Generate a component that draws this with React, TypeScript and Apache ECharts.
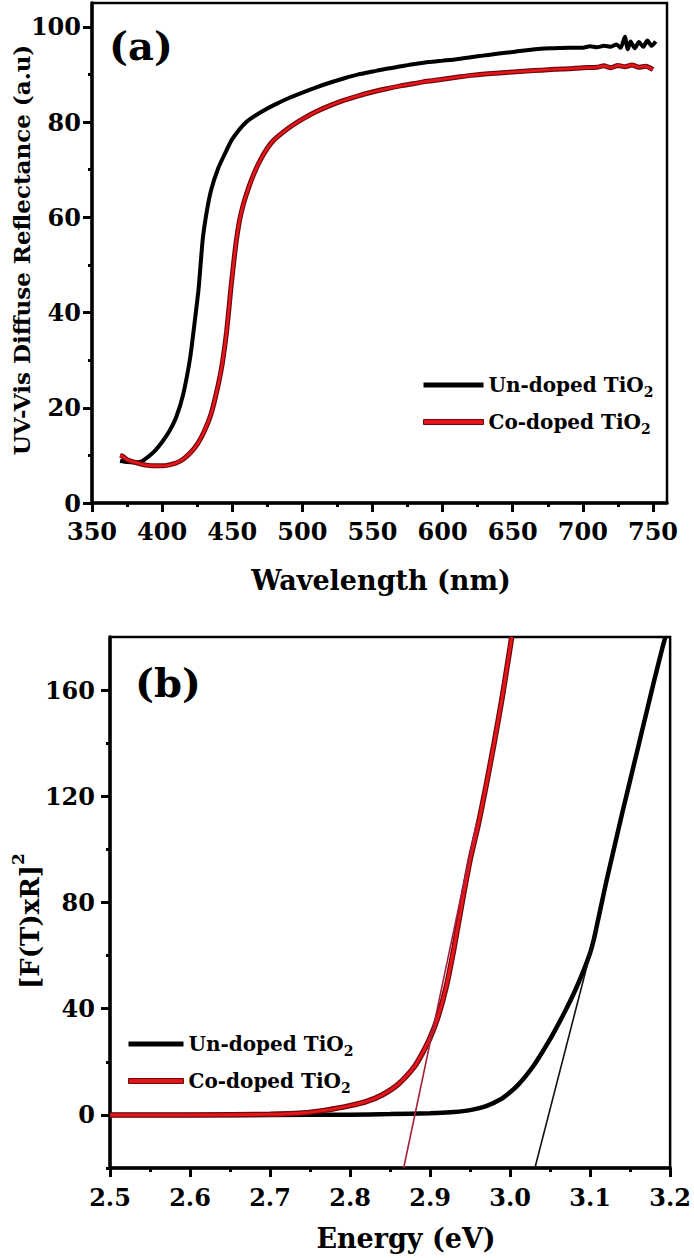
import React, { useEffect, useRef } from "react";
import * as echarts from "echarts";

// ---------- Panel (a): UV-Vis diffuse reflectance ----------
const undopedWl = [370, 375, 380, 385, 390, 395, 400, 405, 410, 415, 420, 423, 426, 429, 432, 435, 440, 445, 450, 460, 470, 480, 490, 500, 510, 520, 530, 540, 550, 560, 570, 580, 590, 600, 610, 620, 630, 640, 650, 660, 670, 680, 690, 700, 705, 710, 715, 720, 724, 727, 730, 732, 734, 737, 740, 743, 746, 749, 752];
const undopedRefl = [8.8, 8.6, 8.5, 8.7, 9.7, 11.0, 12.8, 15.0, 18.0, 22.8, 30.5, 37.5, 45, 55.5, 61.5, 65.8, 70.3, 73.5, 76.4, 80.0, 82.0, 83.6, 85.0, 86.2, 87.3, 88.3, 89.2, 90.0, 90.6, 91.2, 91.7, 92.2, 92.6, 92.9, 93.2, 93.6, 94.0, 94.4, 94.7, 95.1, 95.4, 95.5, 95.6, 95.6, 95.9, 95.7, 96.0, 95.8, 96.3, 95.6, 97.9, 95.3, 96.9, 95.5, 96.8, 95.8, 97.1, 96.0, 96.9];
const codopedWl = [370, 372, 375, 380, 385, 390, 395, 400, 405, 410, 415, 420, 425, 430, 435, 440, 443, 446, 449, 452, 455, 458, 462, 466, 470, 475, 480, 490, 500, 510, 520, 530, 540, 550, 560, 570, 580, 590, 600, 610, 620, 630, 640, 650, 660, 670, 680, 690, 700, 710, 715, 720, 725, 730, 735, 740, 745, 750];
const codopedRefl = [10.0, 9.8, 9.1, 8.6, 8.2, 7.9, 7.8, 7.8, 8.0, 8.4, 9.2, 10.5, 12.3, 15.0, 18.8, 24.8, 29.5, 36, 45, 53, 59, 62.8, 66.5, 69.5, 72, 74.5, 76.3, 78.7, 80.6, 82.2, 83.5, 84.6, 85.5, 86.3, 87.0, 87.6, 88.1, 88.6, 89.0, 89.4, 89.8, 90.1, 90.3, 90.5, 90.7, 90.9, 91.1, 91.2, 91.4, 91.5, 91.8, 91.4, 91.9, 91.6, 92.0, 91.5, 91.7, 91.0];

const aXMajor = [350, 400, 450, 500, 550, 600, 650, 700, 750];
const aXMinor = [375, 425, 475, 525, 575, 625, 675, 725];
const aYMajor = [0, 20, 40, 60, 80, 100];
const aYMinor = [10, 30, 50, 70, 90];

// ---------- Panel (b): Tauc plot ----------
const undopedE = [2.5, 2.6, 2.7, 2.8, 2.85, 2.9, 2.93, 2.95, 2.97, 2.99, 3.0, 3.01, 3.02, 3.03, 3.04, 3.05, 3.06, 3.07, 3.08, 3.09, 3.1, 3.105, 3.11, 3.12, 3.13, 3.14, 3.15, 3.16, 3.17, 3.18, 3.19, 3.194];
const undopedF = [0, 0, 0, 0.1, 0.3, 0.6, 1.1, 1.8, 3.3, 6.2, 8.5, 11.3, 14.8, 18.8, 23.5, 28.5, 34, 39.8, 46, 53, 61, 66.5, 73.5, 87.5, 100.5, 113.5, 126, 138.5, 151, 163.5, 175.5, 180];
const codopedE = [2.5, 2.6, 2.7, 2.74, 2.77, 2.8, 2.82, 2.84, 2.86, 2.88, 2.89, 2.9, 2.91, 2.92, 2.93, 2.94, 2.95, 2.96, 2.97, 2.98, 2.99, 3.0, 3.002];
const codopedF = [0, 0, 0.2, 0.7, 1.8, 3.5, 5, 7.5, 11.5, 18, 23, 29, 37, 48, 63, 80, 96, 109, 124, 140, 157, 176, 180];
const codopedTangentE = [2.867, 2.958];
const codopedTangentF = [-20, 110];
const undopedTangentE = [3.031, 3.108];
const undopedTangentF = [-20, 70];

const bXMajor = [2.5, 2.6, 2.7, 2.8, 2.9, 3.0, 3.1, 3.2];
const bXMinor = [2.55, 2.65, 2.75, 2.85, 2.95, 3.05, 3.15];
const bYMajor = [0, 40, 80, 120, 160];
const bYMinor = [-20, 20, 60, 100, 140];

const seriesNames = ["Un-doped TiO2", "Co-doped TiO2"];

const FONT = '"DejaVu Serif", "Liberation Serif", serif';
const zip = (xs: number[], ys: number[]) => xs.map((x, i) => [x, ys[i]]);

export default function App() {
  const ref = useRef<HTMLDivElement>(null);
  useEffect(() => {
    if (!ref.current) return;
    const chart = echarts.init(ref.current, null, { renderer: "svg" });

    const labelStyle = { fontFamily: FONT, fontWeight: "bold" as const, fontSize: 24, color: "#000" };
    const majorAxis = (gridIndex: number, position: string, min: number, max: number, major: number[], margin: number, fmt?: (v: number) => string) => ({
      type: "value", gridIndex, position, min, max,
      axisLine: { show: true, onZero: false, lineStyle: { color: "#000", width: 3.5 } },
      axisTick: { show: true, inside: false, length: 9, customValues: major, lineStyle: { color: "#000", width: 3 } },
      axisLabel: { show: true, customValues: major, margin, ...labelStyle, formatter: fmt },
      splitLine: { show: false },
    });
    const minorAxis = (gridIndex: number, position: string, min: number, max: number, minor: number[]) => ({
      type: "value", gridIndex, position, min, max,
      axisLine: { show: false, onZero: false },
      axisTick: { show: true, inside: false, length: 4, customValues: minor, lineStyle: { color: "#000", width: 3 } },
      axisLabel: { show: false },
      splitLine: { show: false },
    });

    const legendRich = {
      t: { fontFamily: FONT, fontWeight: "bold", fontSize: 20, color: "#000", lineHeight: 28, verticalAlign: "middle" },
      s: { fontFamily: FONT, fontWeight: "bold", fontSize: 14, color: "#000", lineHeight: 14, verticalAlign: "bottom" },
    };
    const legendData = [
      { name: seriesNames[0], itemStyle: { color: "#000", borderWidth: 0 } },
      { name: seriesNames[1], itemStyle: { color: "#e8141c", borderColor: "#6b0b0b", borderWidth: 1 } },
    ];
    const legendFmt = (n: string) => `{t|${n.replace("TiO2", "TiO")}}{s|2}`;

    const line = (name: string, xi: number, yi: number, data: number[][], color: string, width: number, z = 2) => ({
      name, type: "line", xAxisIndex: xi, yAxisIndex: yi, data, symbol: "none", showSymbol: false,
      smooth: 0.2, clip: true, z, lineStyle: { color, width }, itemStyle: { color }, emphasis: { disabled: true },
    });

    const txt = (x: number, y: number, text: string, size: number, rotation = 0) => ({
      type: "text", x, y, rotation,
      style: { text, font: `bold ${size}px ${FONT}`, fill: "#000", align: "center", verticalAlign: "middle", textAlign: "center", textVerticalAlign: "middle" },
    });

    chart.setOption({
      animation: false,
      backgroundColor: "#fff",
      grid: [
        { left: 92, top: 3, width: 575, height: 500, show: true, borderColor: "#000", borderWidth: 2.5, backgroundColor: "transparent" },
        { left: 110, top: 637, width: 564, height: 531, show: true, borderColor: "#000", borderWidth: 2.5, backgroundColor: "transparent" },
      ],
      xAxis: [
        majorAxis(0, "bottom", 350, 760, aXMajor, 16),
        minorAxis(0, "bottom", 350, 760, aXMinor),
        majorAxis(1, "bottom", 2.5, 3.2, bXMajor, 17, (v: number) => v.toFixed(1)),
        minorAxis(1, "bottom", 2.5, 3.2, bXMinor),
      ],
      yAxis: [
        majorAxis(0, "left", 0, 105, aYMajor, 11),
        minorAxis(0, "left", 0, 105, aYMinor),
        majorAxis(1, "left", -20, 180, bYMajor, 15),
        minorAxis(1, "left", -20, 180, bYMinor),
      ],
      legend: [
        { orient: "vertical", left: 418, top: 370, itemWidth: 60, itemHeight: 5, itemGap: 13, icon: "rect", data: legendData, formatter: legendFmt, textStyle: { rich: legendRich }, selectedMode: false },
        { orient: "vertical", left: 123, top: 1029, itemWidth: 55, itemHeight: 5, itemGap: 13, icon: "rect", data: legendData, formatter: legendFmt, textStyle: { rich: legendRich }, selectedMode: false },
      ],
      series: [
        line(seriesNames[0], 0, 0, zip(undopedWl, undopedRefl), "#000", 4),
        line("Co-doped outline (a)", 0, 0, zip(codopedWl, codopedRefl), "#6b0b0b", 5, 3),
        line(seriesNames[1], 0, 0, zip(codopedWl, codopedRefl), "#e8141c", 2.6, 4),
        line(seriesNames[0], 2, 2, zip(undopedE, undopedF), "#000", 4.5),
        line("Un-doped tangent", 2, 2, zip(undopedTangentE, undopedTangentF), "#111", 1.6, 5),
        line("Co-doped outline (b)", 2, 2, zip(codopedE, codopedF), "#6b0b0b", 5.5, 3),
        line(seriesNames[1], 2, 2, zip(codopedE, codopedF), "#e8141c", 3, 4),
        line("Co-doped tangent", 2, 2, zip(codopedTangentE, codopedTangentF), "#a3203c", 1.6, 5),
      ],
      graphic: [
        txt(141, 45, "(a)", 40),
        txt(168, 682, "(b)", 40),
        txt(381, 580, "Wavelength (nm)", 27),
        txt(406, 1238, "Energy (eV)", 27),
        txt(21, 250, "UV-Vis Diffuse Reflectance (a.u)", 23, Math.PI / 2),
        {
          type: "text", x: 26, y: 921, rotation: Math.PI / 2,
          style: {
            text: "{m|[F(T)xR]}{p|2}", fill: "#000", align: "center", verticalAlign: "middle", textAlign: "center", textVerticalAlign: "middle",
            rich: {
              m: { font: `bold 26px ${FONT}`, fontFamily: FONT, fontWeight: "bold", fontSize: 26, fill: "#000", lineHeight: 34, verticalAlign: "bottom" },
              p: { font: `bold 17px ${FONT}`, fontFamily: FONT, fontWeight: "bold", fontSize: 17, fill: "#000", lineHeight: 17, verticalAlign: "top" },
            },
          },
        },
      ],
    });
    return () => chart.dispose();
  }, []);
  return <div ref={ref} style={{ position: "absolute", left: 0, top: 0, width: 694, height: 1258, background: "#fff" }} />;
}
